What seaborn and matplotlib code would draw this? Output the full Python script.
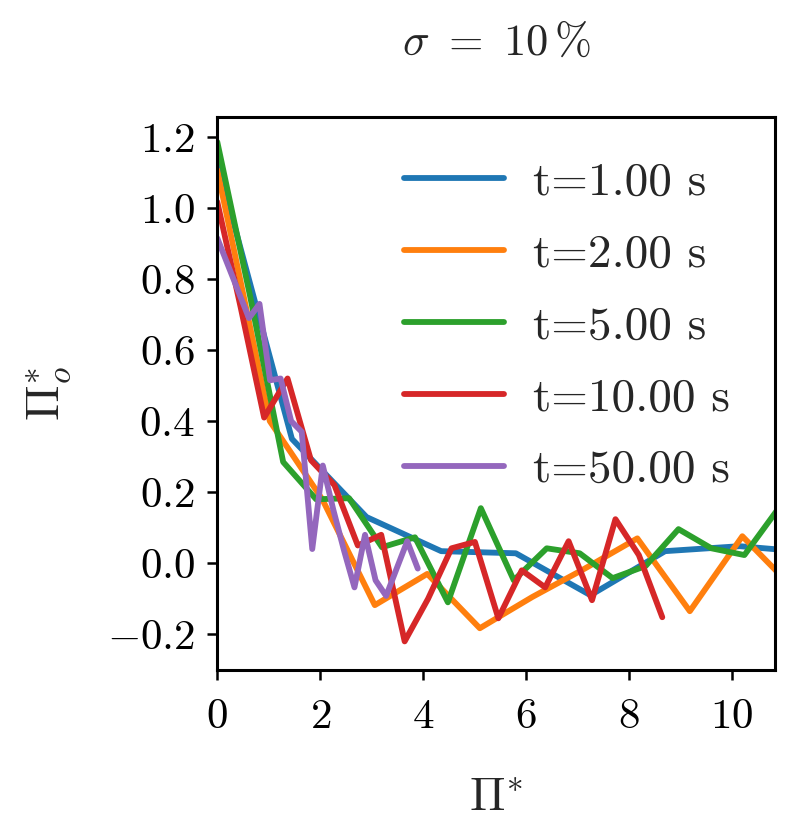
import numpy as np
import pandas as pd
import matplotlib
matplotlib.use("Agg")
import matplotlib.pyplot as plt
import seaborn as sns

# ---------------------------
# Data
# ---------------------------
LABELS = ["t=1.00 s", "t=2.00 s", "t=5.00 s", "t=10.00 s", "t=50.00 s"]

X_T1 = [0.0, 1.45, 2.9, 4.35, 5.8, 7.25, 8.7, 10.15, 11.6]
Y_T1 = [1.13, 0.35, 0.13, 0.034, 0.028, -0.09, 0.034, 0.048, 0.03]

X_T2 = [0.0, 1.02, 2.04, 3.06, 4.08, 5.1, 6.12, 7.14, 8.16, 9.18, 10.2, 11.22]
Y_T2 = [1.107, 0.40, 0.18, -0.118, -0.03, -0.183, -0.095, -0.015, 0.07, -0.135, 0.076, -0.075]

X_T5 = [0.0, 0.64, 1.28, 1.92, 2.56, 3.2, 3.84, 4.48, 5.12, 5.76, 6.4, 7.04,
        7.68, 8.32, 8.96, 9.6, 10.24, 10.88]
Y_T5 = [1.186, 0.75, 0.285, 0.18, 0.183, 0.045, 0.073, -0.11, 0.155, -0.048, 0.042, 0.028,
        -0.042, -0.008, 0.096, 0.042, 0.023, 0.15]

X_T10 = [0.0, 0.455, 0.91, 1.365, 1.82, 2.275, 2.73, 3.185, 3.64, 4.095, 4.55, 5.005,
         5.46, 5.915, 6.37, 6.825, 7.28, 7.735, 8.19, 8.645]
Y_T10 = [1.017, 0.72, 0.41, 0.52, 0.29, 0.22, 0.05, 0.08, -0.22, -0.1, 0.042, 0.06,
         -0.155, -0.02, -0.068, 0.062, -0.104, 0.124, 0.023, -0.152]

X_T50 = [0.0, 0.205, 0.41, 0.615, 0.82, 1.025, 1.23, 1.435, 1.64, 1.845, 2.05, 2.255,
         2.46, 2.665, 2.87, 3.075, 3.28, 3.485, 3.69, 3.895]
Y_T50 = [0.915, 0.84, 0.765, 0.69, 0.73, 0.515, 0.52, 0.40, 0.37, 0.04, 0.275, 0.15,
         0.037, -0.068, 0.08, -0.048, -0.092, -0.015, 0.062, -0.015]

Y_TICKS = [-0.2, 0.0, 0.2, 0.4, 0.6, 0.8, 1.0, 1.2]
X_TICKS = [0, 2, 4, 6, 8, 10]

LINE_W = 4.2

# ---------------------------
# Build long table
# ---------------------------
frames = []
for lab, xs, ys in zip(LABELS, [X_T1, X_T2, X_T5, X_T10, X_T50],
                       [Y_T1, Y_T2, Y_T5, Y_T10, Y_T50]):
    frames.append(pd.DataFrame({"x": xs, "y": ys, "series": lab}))
df = pd.concat(frames, ignore_index=True)

# ---------------------------
# Style
# ---------------------------
sns.set_theme(style="ticks")
plt.rcParams.update({
    "font.family": "serif",
    "font.serif": ["cmr10"],
    "mathtext.fontset": "cm",
    "axes.formatter.use_mathtext": True,
    "axes.unicode_minus": True,
    "axes.linewidth": 2.2,
    "lines.linewidth": LINE_W,
    "xtick.major.width": 1.8,
    "ytick.major.width": 1.8,
    "xtick.major.size": 7,
    "ytick.major.size": 7,
    "xtick.color": "black",
    "ytick.color": "black",
    "axes.edgecolor": "black",
})

fig = plt.figure(figsize=(7.93, 8.30), dpi=100)
ax = fig.add_axes([0.274, 0.193, 0.703, 0.666])

sns.lineplot(data=df, x="x", y="y", hue="series", palette="tab10",
             sort=False, estimator=None, linewidth=LINE_W, ax=ax)
for ln in ax.get_lines():
    ln.set_linewidth(LINE_W)
    ln.set_solid_joinstyle("round")

ax.set_xlim(0, 10.83)
ax.set_ylim(-0.30, 1.256)
ax.set_xticks(X_TICKS)
ax.set_yticks(Y_TICKS)
ax.set_xticklabels([f"${v}$" for v in X_TICKS], fontsize=31)
ax.set_yticklabels([f"${v:.1f}$" for v in Y_TICKS], fontsize=31)
ax.tick_params(axis="x", pad=14)
ax.tick_params(axis="y", pad=9)

ax.set_xlabel(r"$\Pi^{*}$", fontsize=34, labelpad=30)
ax.set_ylabel(r"$\Pi^{*}_{o}$", fontsize=34, labelpad=24)
ax.set_title(r"$\sigma\ =\ 10\,\%$", fontsize=32, pad=45)

leg = ax.legend(loc="upper right", frameon=False, fontsize=34, handlelength=2.1,
                handletextpad=0.62, labelspacing=0.63, borderaxespad=0.55)
for line in leg.get_lines():
    line.set_linewidth(LINE_W)

fig.savefig("out.png", dpi=100)
